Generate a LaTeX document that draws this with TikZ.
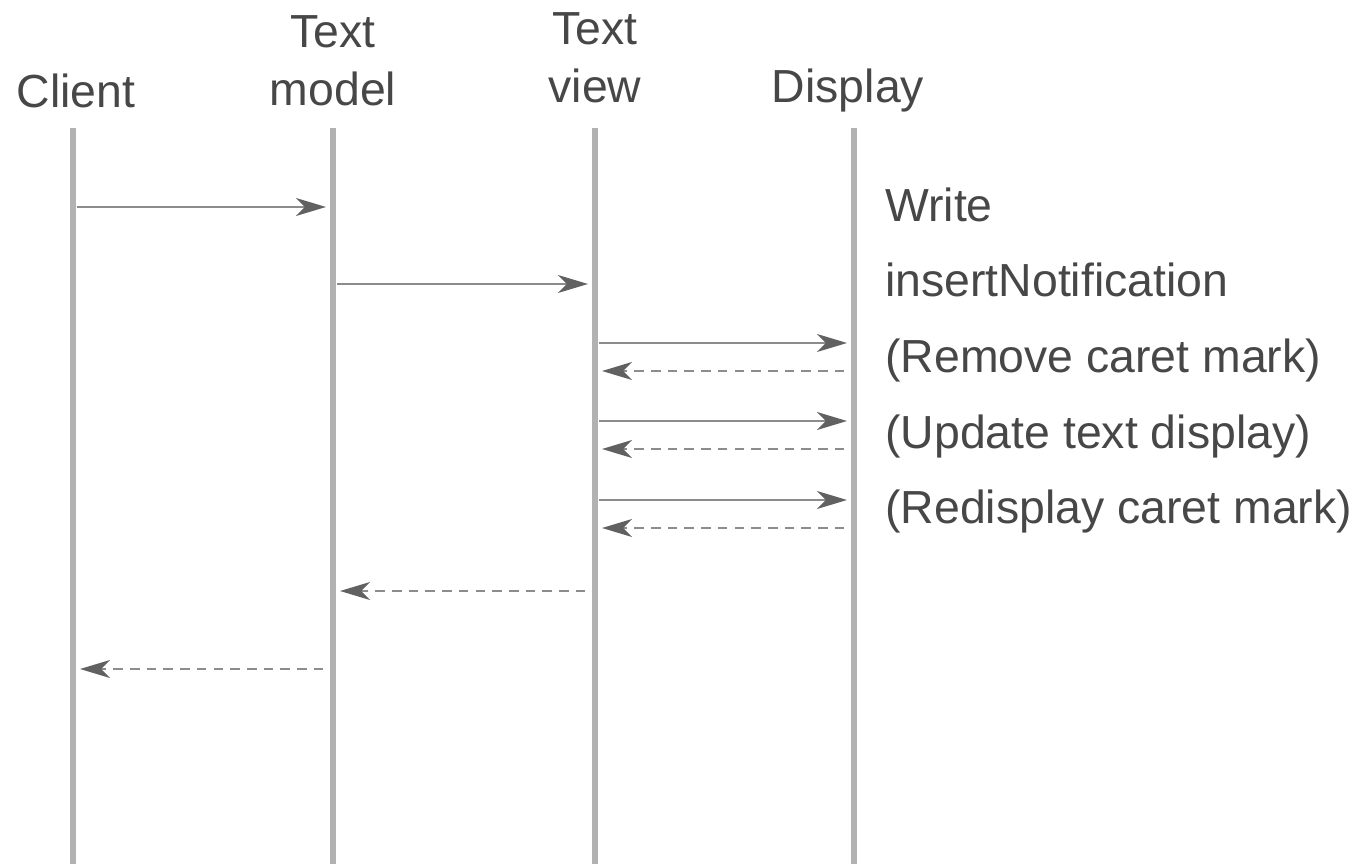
\documentclass[tikz,border=0pt]{standalone}
\usepackage{fontspec}
\setmainfont{Liberation Sans}
\usetikzlibrary{arrows.meta}
\tikzset{
  lifeline/.style={line width=3.2pt, gray!60},
  call/.style={-{Stealth[length=0.6cm,width=0.36cm,inset=0.18cm,color=black!62]},
    line width=1pt, black!45, shorten <=2pt, shorten >=4pt},
  reply/.style={call, dash pattern=on 5.5pt off 4pt, shorten <=5.5pt},
  hd/.style={font=\fontsize{26.4}{33}\selectfont, align=center, inner sep=0pt,
    anchor=south, text=black!72},
  lbl/.style={font=\fontsize{26.4}{33}\selectfont, inner sep=0pt,
    anchor=base west, text=black!72},
}
\begin{document}
\begin{tikzpicture}
  \useasboundingbox (0,0) rectangle (27.28,17.28);
  % object heads
  \node[hd] (client) at (1.52,15.12) {Client};
  \node[hd] (model) at (6.66,15.16) {Text\\model};
  \node[hd] (view) at (11.9,15.22) {Text\\view};
  \node[hd, anchor=base] (display) at (16.96,15.22) {Display};
  % lifelines
  \foreach \n/\x in {cl/1.46, tm/6.66, tv/11.9, dp/17.08} {
    \coordinate (\n) at (\x,14.72);
    \coordinate (\n end) at (\x,0);
    \draw[lifeline] (\n) -- (\n end);
  }
  % message rows
  \foreach \r/\y in {r1/13.14, r2/11.6, r3/10.42, r4/9.86, r5/8.86,
                     r6/8.3, r7/7.28, r8/6.72, r9/5.46, r10/3.9}
    \coordinate (\r) at (0,\y);
  % messages
  \draw[call] (cl |- r1) -- (tm |- r1);
  \draw[call] (tm |- r2) -- (tv |- r2);
  \draw[call] (tv |- r3) -- (dp |- r3);
  \draw[reply] (dp |- r4) -- (tv |- r4);
  \draw[call] (tv |- r5) -- (dp |- r5);
  \draw[reply] (dp |- r6) -- (tv |- r6);
  \draw[call] (tv |- r7) -- (dp |- r7);
  \draw[reply] (dp |- r8) -- (tv |- r8);
  \draw[reply] (tv |- r9) -- (tm |- r9);
  \draw[reply] (tm |- r10) -- (cl |- r10);
  % step labels
  \node[lbl] (write) at (17.7,12.84) {Write};
  \node[lbl] (insert) at (17.7,11.34) {insertNotification};
  \node[lbl] (remove) at (17.7,9.82) {(Remove caret mark)};
  \node[lbl] (update) at (17.7,8.32) {(Update text display)};
  \node[lbl] (redisp) at (17.7,6.82) {(Redisplay caret mark)};
\end{tikzpicture}
\end{document}
